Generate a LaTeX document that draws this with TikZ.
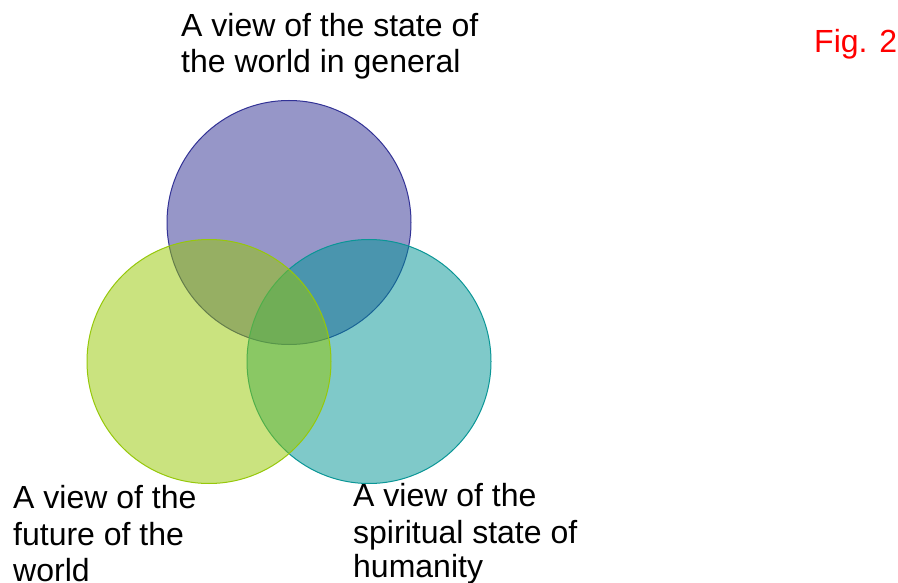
\documentclass[tikz,border=0pt]{standalone}
\usepackage{fontspec}
\setmainfont{Liberation Sans}
\definecolor{topfill}{RGB}{47,47,147}
\definecolor{topline}{RGB}{50,50,150}
\definecolor{leftfill}{RGB}{150,200,0}
\definecolor{leftline}{RGB}{150,200,10}
\definecolor{rightfill}{RGB}{0,149,149}
\definecolor{rightline}{RGB}{10,150,150}
\tikzset{
  venn/.style={line width=1pt, fill opacity=0.5},
  lbl/.style={anchor=base west, inner sep=0pt, font=\fontsize{32}{36}\selectfont},
}
\begin{document}
\begin{tikzpicture}[x=1pt,y=-1pt]
\useasboundingbox (0,0) rectangle (898,583);
\fill[white] (0,0) rectangle (898,583);
\draw[venn, fill=topfill, draw=topline] (289,222.5) circle[radius=122pt];
\draw[venn, fill=rightfill, draw=rightline] (369,361.5) circle[radius=122pt];
\draw[venn, fill=leftfill, draw=leftline] (209,361.5) circle[radius=122pt];
\node[lbl] (ta) at (181,37) {A view of the state of};
\node[lbl] (tb) at (181,73) {the world in general};
\node[lbl] (la) at (13,508) {A view of the};
\node[lbl] (lb) at (13,545) {future of the};
\node[lbl] (lc) at (13,581) {world};
\node[lbl] (ra) at (353,506) {A view of the};
\node[lbl] (rb) at (353,543) {spiritual state of};
\node[lbl] (rc) at (353,577) {humanity};
\node[lbl, text=red] (fig) at (814,53) {Fig. 2};
\end{tikzpicture}
\end{document}
